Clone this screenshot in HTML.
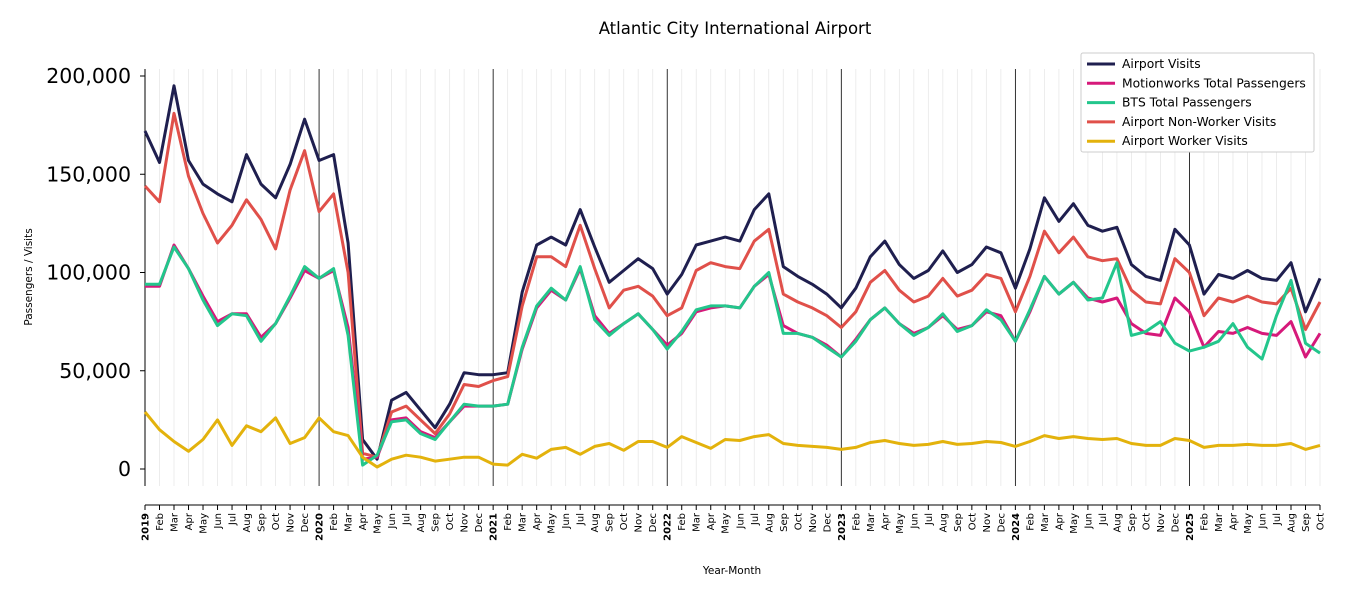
<!DOCTYPE html>
<html><head><meta charset="utf-8"><style>
body{margin:0;background:#fff;}
svg text{font-family:"DejaVu Sans","Liberation Sans",sans-serif;}
</style></head><body>
<svg id="chart" width="1350" height="600" xmlns="http://www.w3.org/2000/svg">
<rect width="1350" height="600" fill="#fff"/>
<text x="735" y="34" font-size="16.5" text-anchor="middle" fill="#000">Atlantic City International Airport</text>
<text transform="translate(32,277) rotate(-90)" font-size="10.5" text-anchor="middle">Passengers / Visits</text>
<text x="732" y="574" font-size="10.5" text-anchor="middle">Year-Month</text>
<g id="grid"></g><g id="axes"></g><g id="lines"></g>
<g>
<rect x="1081" y="53" width="233" height="99" fill="#fff" stroke="#ccc" rx="2"/>
<g id="legend"></g>
</g>
</svg>
<script>
const startYear = 2019;
const monthNames = ["Jan","Feb","Mar","Apr","May","Jun","Jul","Aug","Sep","Oct","Nov","Dec"];
const yTicks = [0,50000,100000,150000,200000];
const airportVisits = [172,156,195,157,145,140,136,160,145,138,155,178, 157,160,115,15,5,35,39,30,21,33,49,48, 48,49,90,114,118,114,132,113,95,101,107,102, 89,99,114,116,118,116,132,140,103,98,94,89, 82,92,108,116,104,97,101,111,100,104,113,110, 92,112,138,126,135,124,121,123,104,98,96,122, 114,89,99,97,101,97,96,105,80,97];
const motionworks = [93,93,114,102,88,75,79,79,67,74,87,101, 97,101,72,5,6,25,26,19,16,24,32,32, 32,33,61,82,91,86,102,78,69,74,79,71, 63,69,80,82,83,82,93,99,73,69,67,63, 57,66,76,82,74,69,72,78,71,73,80,78, 65,80,98,89,95,87,85,87,74,69,68,87, 80,62,70,69,72,69,68,75,57,69];
const bts = [94,94,113,102,86,73,79,78,65,74,88,103, 97,102,68,2,7,24,25,18,15,24,33,32, 32,33,62,83,92,86,103,76,68,74,79,71, 61,70,81,83,83,82,93,100,69,69,67,62, 57,65,76,82,74,68,72,79,70,73,81,76, 65,81,98,89,95,86,87,105,68,70,75,64, 60,62,65,74,62,56,78,96,64,59];
const nonWorker = [144,136,181,149,130,115,124,137,127,112,142,162, 131,140,100,8,6,29,32,25,18,28,43,42, 45,47,83,108,108,103,124,102,82,91,93,88, 78,82,101,105,103,102,116,122,89,85,82,78, 72,80,95,101,91,85,88,97,88,91,99,97, 80,98,121,110,118,108,106,107,91,85,84,107, 100,78,87,85,88,85,84,92,71,85];
const worker = [29,20,14,9,15,25,12,22,19,26,13,16, 26,19,17,6,1,5,7,6,4,5,6,6, 2.5,2,7.5,5.5,10,11,7.5,11.5,13,9.5,14,14, 11,16.5,13.5,10.5,15,14.5,16.5,17.5,13,12,11.5,11, 10,11,13.5,14.5,13,12,12.5,14,12.5,13,14,13.5, 11.5,14,17,15.5,16.5,15.5,15,15.5,13,12,12,15.5, 14.5,11,12,12,12.5,12,12,13,10,12];
const seriesNames = ["Airport Visits","Motionworks Total Passengers","BTS Total Passengers","Airport Non-Worker Visits","Airport Worker Visits"];
const seriesData = [airportVisits, motionworks, bts, nonWorker, worker];
const seriesColors = ["#1f1f4f","#d6197a","#23c68c","#e0504a","#e3b20c"];
const drawOrder = [0,3,1,2,4];

const NS="http://www.w3.org/2000/svg";
const n = airportVisits.length;
const x0=145, x1=1320, yTop=76, yZero=469;
const xs = i => x0 + i*(x1-x0)/(n-1);
const ys = v => yZero - v/200000*(yZero-yTop);
function mk(tag, attrs, parent){const e=document.createElementNS(NS,tag);for(const k in attrs)e.setAttribute(k,attrs[k]);parent.appendChild(e);return e;}
const grid=document.getElementById('grid'), axes=document.getElementById('axes'), lines=document.getElementById('lines'), legend=document.getElementById('legend');

for(let i=0;i<n;i++){
  const m=i%12, x=xs(i);
  const g=mk('line',{x1:x,x2:x,y1:69,y2:486,stroke:m===0?'#000':'#e8e8e8','stroke-width':0.8},grid);
  
  
  mk('line',{x1:x,x2:x,y1:505,y2:510,stroke:'#000','stroke-width':1},axes);
  const label = m===0 ? String(startYear+Math.floor(i/12)) : monthNames[m];
  const t=mk('text',{transform:`translate(${x+3.5},${513}) rotate(-90)`,'text-anchor':'end','font-size':'10','font-weight':m===0?'bold':'normal'},axes);
  t.textContent=label;
  
  
}
const ls=mk('line',{x1:x0,x2:x0,y1:69,y2:486,stroke:'#000','stroke-width':1},axes);


const bs=mk('line',{x1:x0,x2:x1,y1:505,y2:505,stroke:'#000','stroke-width':1},axes);


yTicks.forEach(v=>{
  const y=ys(v);
  mk('line',{x1:x0-5,x2:x0,y1:y,y2:y,stroke:'#000'},axes);
  const t=mk('text',{x:x0-14,y:y+7,'text-anchor':'end','font-size':'20.5'},axes);
  t.textContent=v.toLocaleString('en-US');
  
  
});
drawOrder.forEach(s=>{
  const d=seriesData[s].map((v,i)=>(i?'L':'M')+xs(i).toFixed(1)+','+ys(v*1000).toFixed(1)).join('');
  const p=mk('path',{d:d,fill:'none',stroke:seriesColors[s],'stroke-width':3,'stroke-linejoin':'round'},lines);
  
  
});
seriesNames.forEach((nm,s)=>{
  const y=64+s*19.3;
  mk('line',{x1:1087,x2:1115,y1:y,y2:y,stroke:seriesColors[s],'stroke-width':3},legend);
  const t=mk('text',{x:1122,y:y+4,'font-size':'12.3'},legend);
  t.textContent=nm;
  
  
});
</script>
</body></html>
